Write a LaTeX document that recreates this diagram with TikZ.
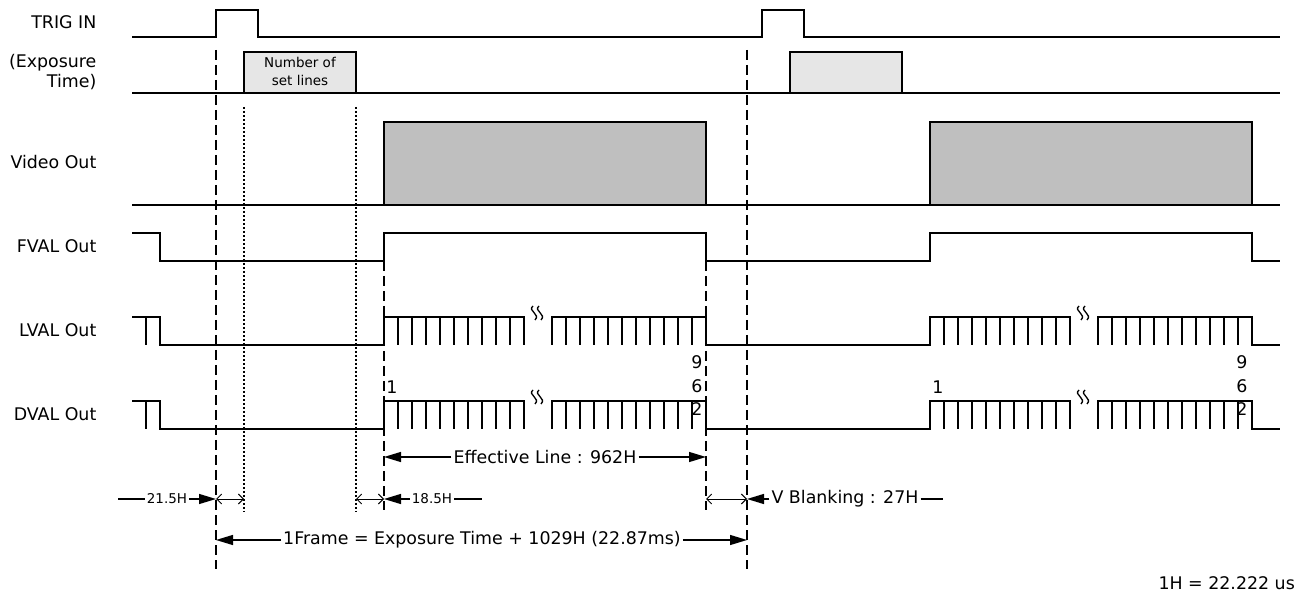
\documentclass[tikz,border=0pt]{standalone}
\usepackage{fontspec}
\setmainfont{DejaVu Sans}
\usetikzlibrary{arrows.meta,positioning}
\definecolor{expgray}{HTML}{E6E6E6}
\definecolor{vidgray}{HTML}{BFBFBF}
\newcommand{\lblsize}{\fontsize{17.4}{20}\selectfont}
\newcommand{\smallsize}{\fontsize{13.5}{18}\selectfont}

\begin{document}
\begin{tikzpicture}[x=1pt, y=-1pt, line width=1.3pt,
    lbl/.style={anchor=east, font=\lblsize, align=right, inner sep=0pt},
    txt/.style={font=\lblsize, inner sep=1.5pt},
    small/.style={font=\smallsize, inner sep=1.5pt},
    bigdash/.style={line width=2pt, dash pattern=on 10pt off 5pt},
    dotline/.style={line width=1.1pt, dash pattern=on 2pt off 2pt},
    dimarrow/.style={-{Triangle[length=17pt,width=10pt]}},
    gaparrow/.style={line width=0.9pt, {Straight Barb[length=5pt,width=10pt]}-{Straight Barb[length=5pt,width=10pt]}}]
    \useasboundingbox (0,0) rectangle (1315,593);

    % signal names
    \node[lbl] (trig) at (97,22) {TRIG IN};
    \node[lbl] (expo) at (97,72) {(Exposure\\Time)};
    \node[lbl] (video) at (97,162) {Video Out};
    \node[lbl] (fval) at (97,246) {FVAL Out};
    \node[lbl, below=84pt of fval.east, anchor=east] (lval) {LVAL Out};
    \node[lbl, below=84pt of lval.east, anchor=east] (dval) {DVAL Out};

    % waveforms
    \draw (132,37) -- (216,37) -- (216,10) -- (258,10) -- (258,37) -- (762,37) -- (762,10) -- (804,10) -- (804,37) -- (1280,37);
    \draw (132,93) -- (1280,93);
    \draw[fill=expgray] (244,93) rectangle (356,52);
    \node[small, align=center] (setlines) at (300,71) {Number of\\set lines};
    \draw[fill=expgray] (790,93) rectangle (902,52);
    \draw (132,205) -- (1280,205);
    \draw[fill=vidgray] (384,205) rectangle (706,122);
    \draw[fill=vidgray] (930,205) rectangle (1252,122);
    \draw (132,233) -- (160,233) -- (160,261) -- (384,261) -- (384,233) -- (706,233) -- (706,261) -- (930,261) -- (930,233) -- (1252,233) -- (1252,261) -- (1280,261);
    \foreach \hi/\lo in {317/345,401/429} {
        \draw (132,\hi) -- (160,\hi) -- (160,\lo) -- (384,\lo) -- (384,\hi) -- (524,\hi) -- (524,\lo);
        \draw (146,\hi) -- (146,\lo);
        \draw (552,\lo) -- (552,\hi) -- (706,\hi) -- (706,\lo) -- (930,\lo) -- (930,\hi) -- (1070,\hi) -- (1070,\lo);
        \draw (1098,\lo) -- (1098,\hi) -- (1252,\hi) -- (1252,\lo) -- (1280,\lo);
        \foreach \s in {384,552,930,1098}
            \foreach \k in {1,...,10}
                \draw (\s+14*\k,\hi) -- (\s+14*\k,\lo);
        \foreach \sx in {534,540,1080,1086}
            \draw[line width=1.3pt] (\sx-1,\hi-11) .. controls (\sx-7,\hi-6) and (\sx+7,\hi-3) .. (\sx+1,\hi+3);
    }

    % line numbers
    \node[txt] (firstA) at (392,387) {1};
    \node[txt, align=center, font=\fontsize{17.4}{23.5}\selectfont] (lastA) at (697,386) {9\\6\\2};
    \node[txt] (firstB) at (938,387) {1};
    \node[txt, align=center, font=\fontsize{17.4}{23.5}\selectfont] (lastB) at (1242,386) {9\\6\\2};

    % timing marks
    \draw[bigdash] (216,50) -- (216,569);
    \draw[bigdash] (747,50) -- (747,569);
    \draw[bigdash] (384,261) -- (384,510);
    \draw[bigdash] (706,261) -- (706,510);
    \draw[dotline] (244,107) -- (244,512);
    \draw[dotline] (356,107) -- (356,512);

    % effective lines
    \node[txt] (eff) at (545,457) {Effective Line : 962H};
    \coordinate (effL) at (384,457);
    \coordinate (effR) at (706,457);
    \draw[dimarrow] (eff) -- (effL);
    \draw[dimarrow] (eff) -- (effR);

    % blanking
    \node[small] (pre) at (167,499) {21.5H};
    \coordinate (preL) at (118,499);
    \coordinate (trigA) at (216,499);
    \coordinate (dotA) at (244,499);
    \coordinate (dotB) at (356,499);
    \coordinate (fvA) at (384,499);
    \draw (pre) -- (preL);
    \draw[dimarrow] (pre) -- (trigA);
    \draw[gaparrow] (trigA) -- (dotA);
    \draw[gaparrow] (dotB) -- (fvA);
    \node[small] (post) at (432,499) {18.5H};
    \coordinate (postR) at (482,499);
    \draw[dimarrow] (post) -- (fvA);
    \draw (post) -- (postR);
    \coordinate (fvB) at (706,499);
    \coordinate (trigB) at (747,499);
    \draw[gaparrow] (fvB) -- (trigB);
    \node[txt] (vblank) at (845,499) {V Blanking : 27H};
    \coordinate (vblankR) at (943,499);
    \draw[dimarrow] (vblank) -- (trigB);
    \draw (vblank) -- (vblankR);

    % frame
    \node[txt] (frame) at (482,540) {1Frame = Exposure Time + 1029H (22.87ms)};
    \coordinate (frameL) at (216,540);
    \coordinate (frameR) at (747,540);
    \draw[dimarrow] (frame) -- (frameL);
    \draw[dimarrow] (frame) -- (frameR);

    \node[txt, anchor=east] (unit) at (1297,583) {1H = 22.222 us};
\end{tikzpicture}
\end{document}
